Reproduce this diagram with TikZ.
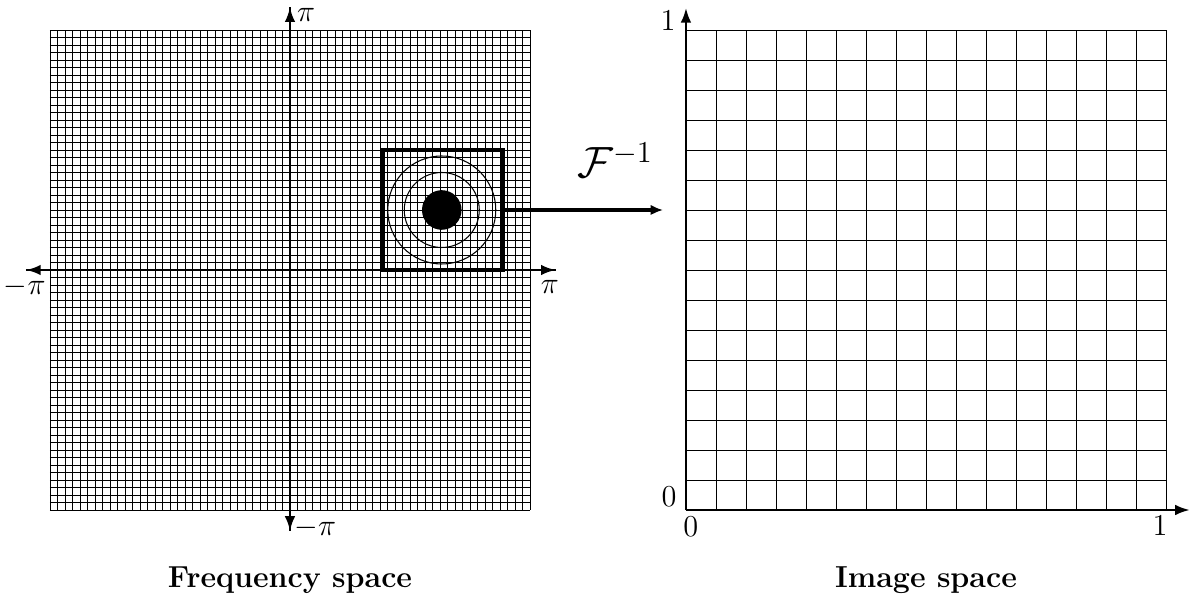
\documentclass[tikz,border=0pt]{standalone}
\usepackage{amsmath,amssymb}
\usepackage{tikz}
\usetikzlibrary{arrows.meta,positioning}
\tikzset{
  axis/.style={-{Latex[length=7pt,width=5pt]},line width=1.2pt},
  link/.style={-{Latex[length=6pt,width=5pt]},line width=1.8pt},
  fine/.style={line width=0.4pt,color=black},
  window/.style={draw,line width=1.7pt,minimum size=2cm,inner sep=0pt},
  ring/.style={line width=0.5pt},
  lbl/.style={inner sep=1pt,font=\Large},
  caption/.style={font=\Large\bfseries},
}
\begin{document}
\begin{tikzpicture}[x=1cm,y=1cm]
  \useasboundingbox (-4.833,-5.483) rectangle (15.017,4.5);
  % frequency space
  \draw[fine,step=0.125] (-4,-4) grid (4,4);
  \draw[axis] (0,-4.35) -- (0,4.38);
  \draw[axis] (0,4.38) -- (0,-4.35);
  \draw[axis] (-4.4,0) -- (4.43,0);
  \draw[axis] (4.43,0) -- (-4.4,0);
  \node[lbl] (ptop) at (0.27,4.25) {$\pi$};
  \node[lbl] (pbot) at (0.42,-4.3) {$-\pi$};
  \node[lbl] (pleft) at (-4.42,-0.28) {$-\pi$};
  \node[lbl] (pright) at (4.33,-0.28) {$\pi$};
  \foreach \r in {0.9,0.625}{\draw[ring] (2.53,1) circle (\r);}
  \fill (2.53,1) circle (0.33);
  \node[window] (win) at (2.55,1) {};
  \coordinate (tgt) at (6.22,1);
  \draw[link] (win.east) -- (tgt);
  \node[font=\huge] (finv) at (5.42,1.83) {$\mathcal{F}^{-1}$};
  \node[caption] (fcap) at (0,-5.17) {Frequency space};
  % image space
  \begin{scope}[shift={(6.6,-4)}]
    \draw[fine,step=0.5] (0,0) grid (8,8);
    \draw[axis] (0,0) -- (0,8.37);
    \draw[axis] (0,0) -- (8.4,0);
  \end{scope}
  \node[lbl] (one) at (6.3,4.15) {$1$};
  \node[lbl] (zero) at (6.32,-3.78) {$0$};
  \node[lbl] (zx) at (6.68,-4.28) {$0$};
  \node[lbl] (ox) at (14.5,-4.27) {$1$};
  \node[caption] (icap) at (10.6,-5.17) {Image space};
\end{tikzpicture}
\end{document}
